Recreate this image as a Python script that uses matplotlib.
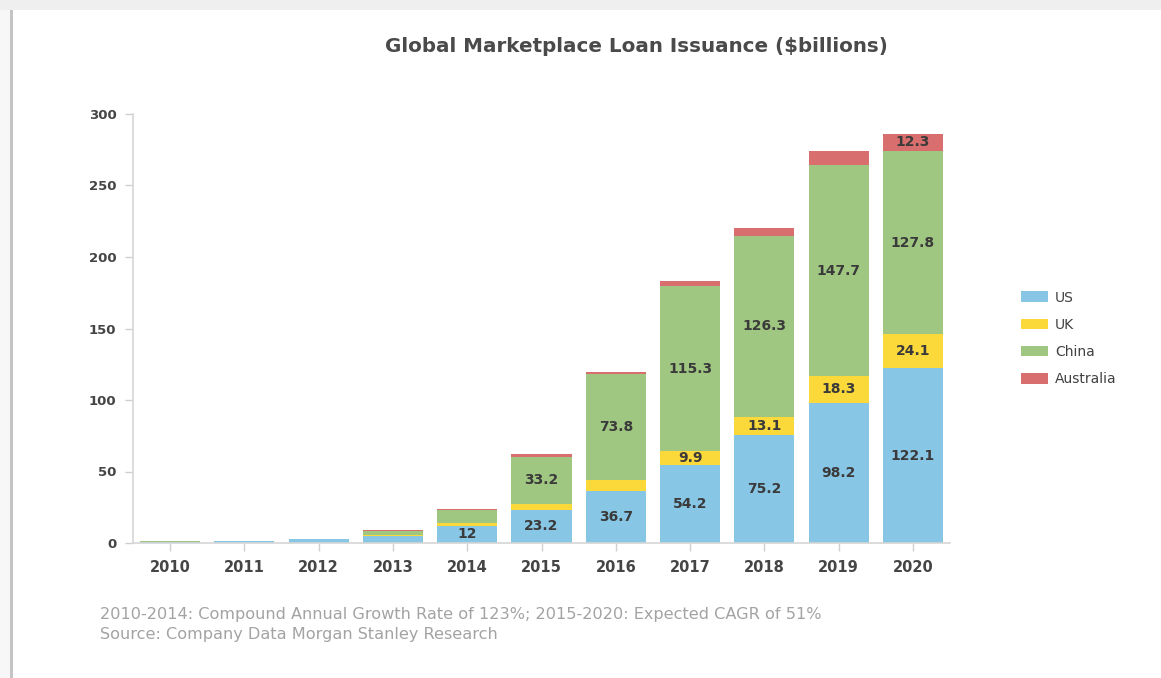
import matplotlib
matplotlib.use("Agg")
import matplotlib.pyplot as plt
from matplotlib.patches import Rectangle
import numpy as np

years = ["2010", "2011", "2012", "2013", "2014", "2015", "2016", "2017", "2018", "2019", "2020"]
us = [0.9, 1.4, 2.5, 4.6, 12, 23.2, 36.7, 54.2, 75.2, 98.2, 122.1]
uk = [0.0, 0.0, 0.0, 0.7, 2.3, 4.0, 7.5, 9.9, 13.1, 18.3, 24.1]
china = [0.3, 0.1, 0.2, 2.8, 8.8, 33.2, 73.8, 115.3, 126.3, 147.7, 127.8]
australia = [0.0, 0.0, 0.0, 1.2, 0.9, 1.6, 1.8, 3.5, 5.8, 9.8, 12.3]

us_labels = ["", "", "", "", "12", "23.2", "36.7", "54.2", "75.2", "98.2", "122.1"]
uk_labels = ["", "", "", "", "", "", "", "9.9", "13.1", "18.3", "24.1"]
china_labels = ["", "", "", "", "", "33.2", "73.8", "115.3", "126.3", "147.7", "127.8"]
australia_labels = ["", "", "", "", "", "", "", "", "", "", "12.3"]

series_names = ["US", "UK", "China", "Australia"]
colors = ["#88C6E6", "#FCD93A", "#A0C781", "#D96E6E"]
y_ticks = [0, 50, 100, 150, 200, 250, 300]

title = "Global Marketplace Loan Issuance ($billions)"
note1 = "2010-2014: Compound Annual Growth Rate of 123%; 2015-2020: Expected CAGR of 51%"
note2 = "Source: Company Data Morgan Stanley Research"

plt.rcParams['font.family'] = ['DejaVu Sans']

W, H = 1161, 678
fig = plt.figure(figsize=(W / 100, H / 100), dpi=100)
fig.patch.set_facecolor("white")

# screenshot frame: top band + left border shadow
fig.patches.append(Rectangle((0, 1 - 10 / H), 1, 10 / H, transform=fig.transFigure,
                             facecolor="#efefef", edgecolor="none", zorder=0))
fig.patches.append(Rectangle((0, 0), 10 / W, 1 - 10 / H, transform=fig.transFigure,
                             facecolor="#f7f7f7", edgecolor="none", zorder=0))
fig.patches.append(Rectangle((10 / W, 0), 3 / W, 1 - 10 / H, transform=fig.transFigure,
                             facecolor="#c4c4c4", edgecolor="none", zorder=0))

ax = fig.add_axes([133 / W, 1 - 543 / H, (950 - 133) / W, (543 - 114) / H])

x = np.arange(len(years))
width = 0.81
bottom = np.zeros(len(years))
all_vals = [us, uk, china, australia]
all_labels = [us_labels, uk_labels, china_labels, australia_labels]
for vals, labs, name, col in zip(all_vals, all_labels, series_names, colors):
    v = np.array(vals, dtype=float)
    ax.bar(x, v, width, bottom=bottom, color=col, label=name, edgecolor="none", zorder=2)
    for xi, b, val, lab in zip(x, bottom, v, labs):
        if lab:
            ax.text(xi, b + val / 2, lab, ha="center", va="center", fontsize=10,
                    fontweight="bold", color="#3a3a3a", zorder=3)
    bottom = bottom + v

ax.set_xlim(-0.5, 10.5)
ax.set_ylim(0, 300)
ax.set_xticks(x)
ax.set_xticklabels(years)
ax.set_yticks(y_ticks)
ax.set_yticklabels([str(t) for t in y_ticks])
for s in ["top", "right"]:
    ax.spines[s].set_visible(False)
for s in ["left", "bottom"]:
    ax.spines[s].set_color("#d6d6d6")
    ax.spines[s].set_linewidth(1.2)
ax.tick_params(axis="both", colors="#d0d0d0", length=6, width=1, labelsize=10)
ax.tick_params(axis="x", pad=6, labelsize=10.5)
ax.tick_params(axis="y", pad=6, labelsize=9.5)
for lab in ax.get_xticklabels() + ax.get_yticklabels():
    lab.set_color("#454545")
    lab.set_fontweight("bold")

fig.text(636 / W, 1 - 47 / H, title, ha="center", va="center", fontsize=14.3,
         fontweight="bold", color="#4a4a4a")

leg = ax.legend(loc="upper left", bbox_to_anchor=(1008 / W, 1 - 278 / H),
                bbox_transform=fig.transFigure, frameon=False, fontsize=10,
                handlelength=2.0, handleheight=0.8, labelspacing=0.95, handletextpad=0.5)
for t in leg.get_texts():
    t.set_color("#404040")

fig.text(100 / W, 1 - 615 / H, note1, ha="left", va="center", fontsize=11.6, color="#a3a3a3")
fig.text(100 / W, 1 - 634 / H, note2, ha="left", va="center", fontsize=11.6, color="#a3a3a3")

fig.savefig("out.png", dpi=100)
